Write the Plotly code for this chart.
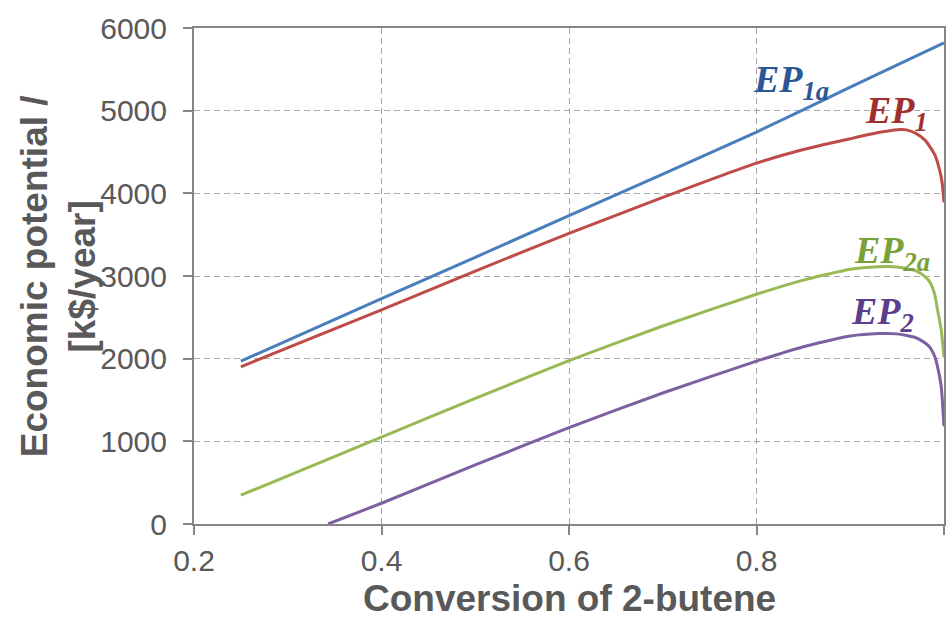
import plotly.graph_objects as go

# ---- data ----
x_ep1a = [0.25, 0.4, 0.6, 0.8, 0.9, 1.0]
ep1a = [1970, 2725, 3729, 4741, 5285, 5820]

x_ep1 = [0.25, 0.4, 0.5, 0.6, 0.7, 0.8, 0.85, 0.9, 0.93, 0.95, 0.96, 0.97, 0.98, 0.985, 0.99, 0.995, 0.998, 1.0]
ep1 = [1902, 2590, 3060, 3516, 3950, 4365, 4530, 4660, 4735, 4770, 4768, 4725, 4640, 4563, 4470, 4296, 4130, 3890]

x_ep2a = [0.25, 0.4, 0.5, 0.6, 0.7, 0.8, 0.85, 0.9, 0.93, 0.95, 0.97, 0.98, 0.985, 0.99, 0.993, 0.997, 1.0]
ep2a = [348, 1052, 1520, 1975, 2395, 2779, 2950, 3082, 3112, 3110, 3062, 2990, 2925, 2780, 2597, 2354, 2015]

x_ep2 = [0.343, 0.4, 0.5, 0.6, 0.7, 0.8, 0.85, 0.9, 0.93, 0.95, 0.97, 0.98, 0.985, 0.99, 0.993, 0.997, 1.0]
ep2 = [0, 251, 715, 1165, 1585, 1970, 2145, 2273, 2303, 2300, 2253, 2190, 2136, 2030, 1909, 1666, 1181]

x_tickvals = [0.2, 0.4, 0.6, 0.8, 1.0]
x_ticktext = ["0.2", "0.4", "0.6", "0.8", "1"]
y_tickvals = [0, 1000, 2000, 3000, 4000, 5000, 6000]
y_ticktext = ["0", "1000", "2000", "3000", "4000", "5000", "6000"]

series = [
    ("EP1a", x_ep1a, ep1a, "#4a7ebb"),
    ("EP1", x_ep1, ep1, "#be4b48"),
    ("EP2a", x_ep2a, ep2a, "#98b954"),
    ("EP2", x_ep2, ep2, "#7d60a0"),
]

fig = go.Figure()
for name, xs, ys, col in series:
    fig.add_trace(go.Scatter(x=xs, y=ys, mode="lines", name=name,
                             line=dict(color=col, width=3, shape="spline", smoothing=0.5),
                             showlegend=False, cliponaxis=True))

labels = [
    ("<b><i>EP<sub>1a</sub></i></b>", 0.796, 0.891, "#2b5797"),
    ("<b><i>EP<sub>1</sub></i></b>", 0.937, 0.829, "#a0302d"),
    ("<b><i>EP<sub>2a</sub></i></b>", 0.931, 0.546, "#79a13a"),
    ("<b><i>EP<sub>2</sub></i></b>", 0.918, 0.423, "#5b3f8c"),
]
for txt, xp, yp, col in labels:
    fig.add_annotation(text=txt, xref="paper", yref="paper", x=xp, y=yp,
                       xanchor="center", yanchor="middle", showarrow=False,
                       font=dict(family="Liberation Serif", size=38, color=col))

title_font = dict(family="Liberation Sans", size=37, color="#595959")

# axis titles placed as annotations
fig.add_annotation(text="<b>Economic potential /<br>[k$/year]</b>", xref="paper", yref="paper",
                   x=-0.181, y=0.5, xanchor="center", yanchor="middle", textangle=-90,
                   showarrow=False, font=title_font)
fig.add_annotation(text="<b>Conversion of 2-butene</b>", xref="paper", yref="paper",
                   x=0.501, y=-0.151, xanchor="center", yanchor="middle",
                   showarrow=False, font=title_font)

axis_common = dict(
    showline=True, linecolor="#868686", linewidth=2, mirror=True,
    ticks="outside", ticklen=9, tickcolor="#868686", tickwidth=1.5,
    showgrid=True, gridcolor="#a6a6a6", gridwidth=1, griddash="6px,4px",
    zeroline=False,
    tickfont=dict(family="Liberation Sans", size=30, color="#595959"),
)

fig.update_xaxes(range=[0.2, 1.0], tickvals=x_tickvals, ticktext=x_ticktext, **axis_common)
fig.update_yaxes(range=[0, 6000], tickvals=y_tickvals, ticktext=y_ticktext,
                 ticklabelstandoff=10, **axis_common)

fig.update_layout(width=951, height=619,
                  margin=dict(l=194, r=7, t=28, b=95, autoexpand=False),
                  plot_bgcolor="white", paper_bgcolor="white")

fig.write_html("out.html", config={"displayModeBar": False},
               post_script="document.body.style.margin='0px';document.body.style.overflow='hidden';")
